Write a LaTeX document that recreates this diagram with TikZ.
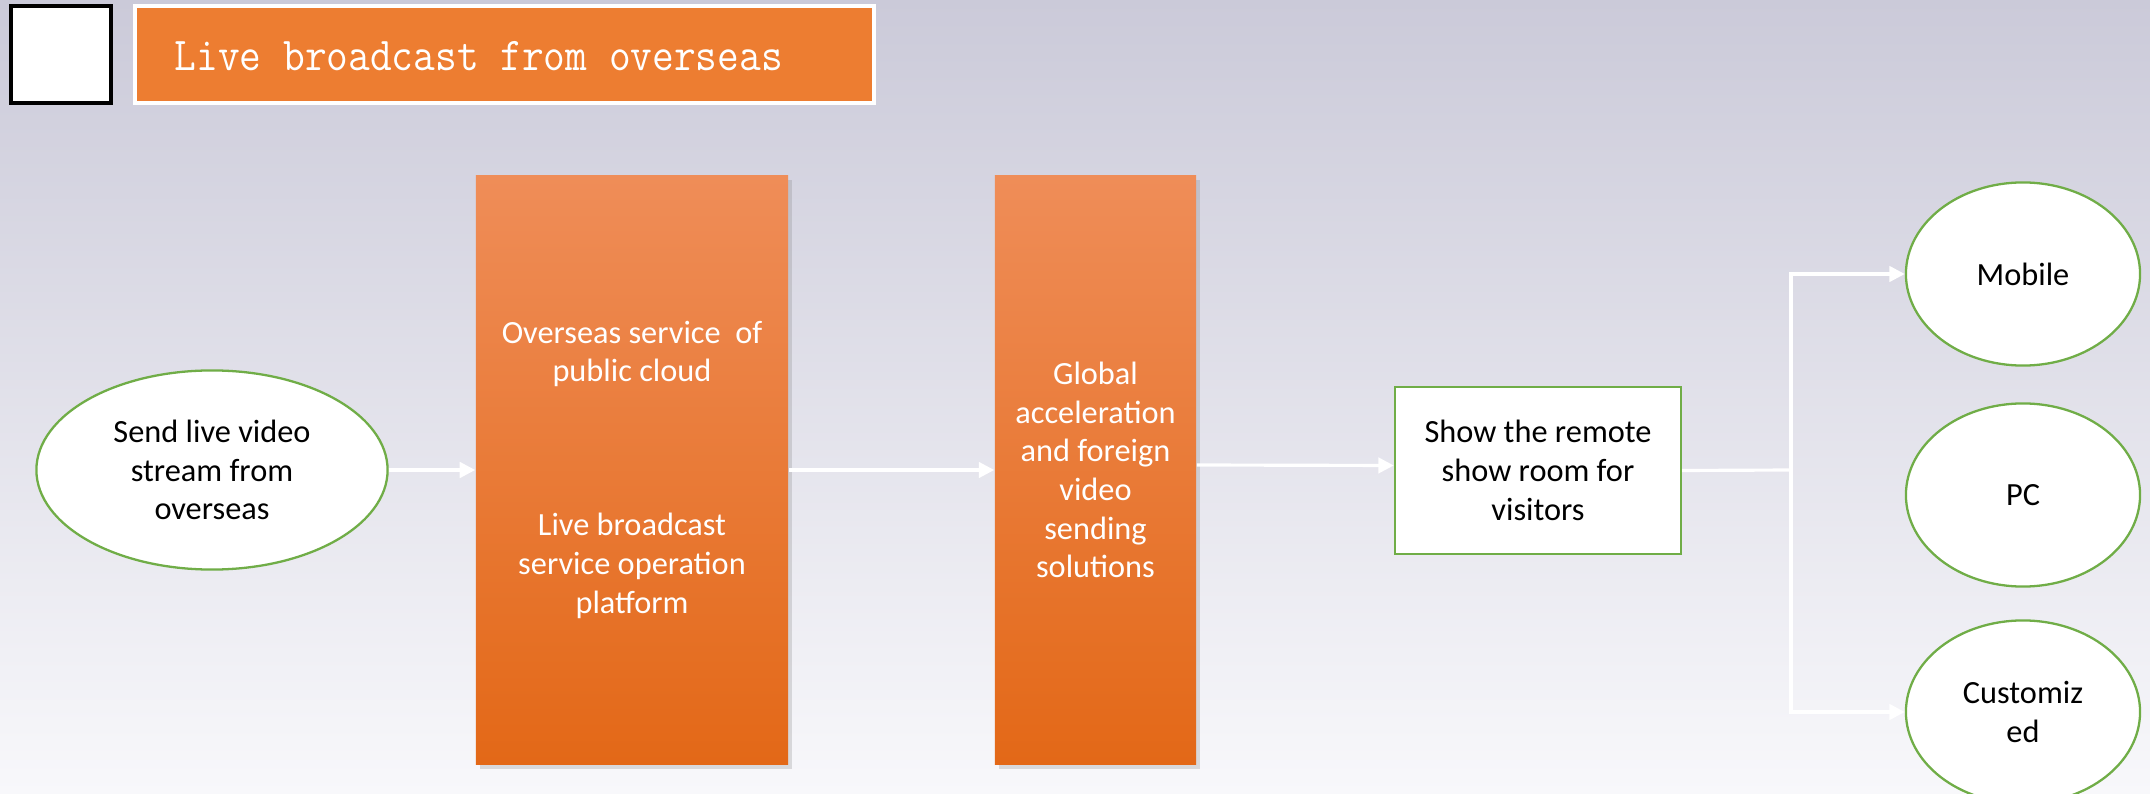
\documentclass[tikz,border=0pt]{standalone}
\usepackage{fontspec}
\setmainfont{Carlito}
\usetikzlibrary{positioning,arrows.meta,shapes.geometric,shadows}

\definecolor{bgtop}{HTML}{CBCAD9}
\definecolor{bgbottom}{HTML}{F8F8FB}
\definecolor{flowgreen}{HTML}{70AD47}
\definecolor{titleorange}{HTML}{ED7D31}
\definecolor{bartop}{HTML}{EF8D58}
\definecolor{barmid}{HTML}{F47A28}
\definecolor{barbottom}{HTML}{E36817}

\tikzset{
  endpoint/.style={ellipse, draw=flowgreen, line width=0.65pt, fill=white,
    align=center, inner sep=0pt, font=\fontsize{9.2pt}{11pt}\selectfont},
  showbox/.style={rectangle, draw=flowgreen, line width=0.65pt, fill=white,
    align=center, inner sep=0pt, font=\fontsize{9.2pt}{11pt}\selectfont},
  orangebar/.style={rectangle, draw=none, top color=bartop, middle color=barmid,
    bottom color=barbottom, inner sep=0pt,
    drop shadow={opacity=0.25, shadow xshift=1.2pt, shadow yshift=-1.2pt}},
  bartext/.style={align=center, text=white, inner sep=0pt,
    font=\fontsize{9.2pt}{11pt}\selectfont},
  flow/.style={draw=white, line width=0.9pt, -{Triangle[length=4.4pt,width=4.4pt]}}
}

\begin{document}
\begin{tikzpicture}[x=0.01cm, y=-0.01cm]
    % background
    \shade[top color=bgtop, bottom color=bgbottom] (0,0) rectangle (2150,794);
    \useasboundingbox (0,0) rectangle (2150,794);

    % Title
    \node[rectangle, draw=black, line width=0.9pt, fill=white,
        minimum width=1.0cm, minimum height=0.97cm] (logo) at (61,54.5) {};
    \node[rectangle, draw=white, line width=1pt, fill=titleorange,
        minimum width=7.39cm, minimum height=0.97cm] (title) at (504.5,54.5) {};
    \node[anchor=west, text=white, inner sep=0pt,
        font=\ttfamily\fontsize{13.4pt}{15pt}\selectfont\addfontfeature{FakeBold=0.5}]
        (titletext) at (174,56) {\scalebox{0.895}[1]{Live broadcast from overseas}};

    % Source
    \node[endpoint, minimum width=3.51cm, minimum height=1.99cm] (send) at (212,470)
        {Send live video\\stream from\\overseas};

    % Orange bars
    \node[orangebar, minimum width=3.12cm, minimum height=5.89cm] (cloud) at (632,470) {};
    \node[bartext] (cloudtop) at (632,354) {Overseas service\ \ of\\public cloud};
    \node[bartext] (cloudbottom) at (632,566) {Live broadcast\\service operation\\platform};

    \node[orangebar, minimum width=2.01cm, minimum height=5.89cm] (accel) at (1095.5,470) {};
    \node[bartext] (acceltext) at (1095.5,470)
        {Global\\acceleration\\and foreign\\video\\sending\\solutions};

    % Show room
    \node[showbox, minimum width=2.86cm, minimum height=1.67cm] (show) at (1538,470.5)
        {Show the remote\\show room for\\visitors};

    % Clients
    \node[endpoint, minimum width=2.34cm, minimum height=1.83cm] (mobile) at (2023,274) {Mobile};
    \node[endpoint, minimum width=2.34cm, minimum height=1.83cm] (pc) at (2023,495) {PC};
    \node[endpoint, minimum width=2.34cm, minimum height=1.83cm] (custom) at (2023,712) {Customiz\\ed};

    % Connections
    \draw[flow] (send.east) -- (cloud.west);
    \draw[flow] (cloud.east) -- (accel.west);
    \draw[flow] ([yshift=0.05cm]accel.east) -- ([yshift=0.05cm]show.west);
    \coordinate (split) at (1791,470);
    \draw[white, line width=0.9pt] (show.east) -- (split);
    \draw[flow] (split) |- (mobile.west);
    \draw[flow] (split) |- (custom.west);
\end{tikzpicture}
\end{document}
